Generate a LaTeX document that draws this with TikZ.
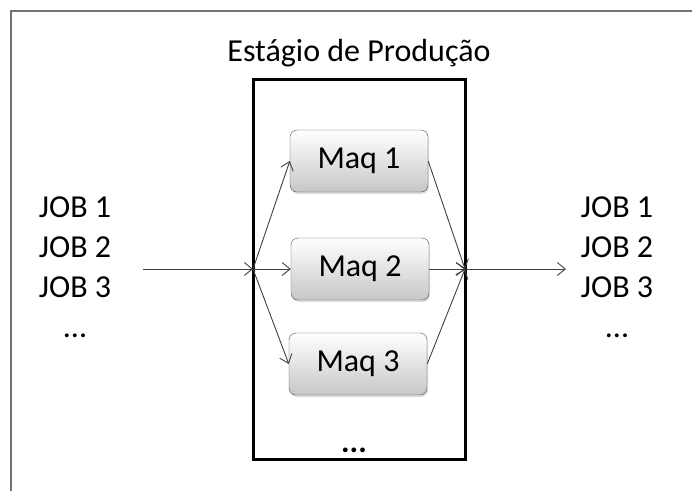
\documentclass[tikz,border=0pt]{standalone}
\usepackage{fontspec}
\setmainfont{Carlito}
\usetikzlibrary{positioning,shadows,arrows.meta}

\begin{document}
\begin{tikzpicture}[x=1pt, y=-1pt, >={Straight Barb[length=8pt,width=13pt]},
	maq/.style = {draw=black!70, rounded corners=7pt, minimum width=138pt, minimum height=62pt,
		top color=white, bottom color=black!22, font=\fontsize{32}{38}\selectfont,
		drop shadow={shadow xshift=1pt, shadow yshift=-2pt, opacity=0.25}},
	stage/.style = {draw, line width=3pt, minimum width=212pt, minimum height=380pt, outer sep=0pt},
	jobs/.style = {align=center, font=\fontsize{32}{40}\selectfont},
	flow/.style = {->, draw=black!75, line width=0.9pt}]
	\useasboundingbox (0,0) rectangle (692,491);
	\draw[black!55, line width=2pt] (11,491) -- (11,11) -- (692,11);
	% stage with the three machines
	\node[stage] (stage) at (359,269) {};
	\node[anchor=base, font=\fontsize{32}{38}\selectfont] (title) at (359,61) {Estágio de Produção};
	\node[maq] (m1) at (359,161) {Maq 1};
	\node[maq] (m2) at (360,269) {Maq 2};
	\node[maq] (m3) at (358,364) {Maq 3};
	\node[anchor=base, font=\fontsize{32}{38}\selectfont\bfseries] (more) at (354,452) {...};
	% jobs before and after
	\node[jobs] (jin) at (75,267) {JOB 1\\JOB 2\\JOB 3\\...};
	\node[jobs] (jout) at (617,267) {JOB 1\\JOB 2\\JOB 3\\...};
	\coordinate (src) at (143,269);
	\coordinate (dst) at (566,269);
	\draw[flow] (src) -- (stage.west);
	\draw[flow] (stage.west) -- (m1.west);
	\draw[flow] (stage.west) -- (m2.west);
	\draw[flow] (stage.west) -- (m3.west);
	\draw[flow] (m1.east) -- (stage.east);
	\draw[flow] (m2.east) -- (stage.east);
	\draw[flow] (m3.east) -- (stage.east);
	\draw[flow] (stage.east) -- (dst);
\end{tikzpicture}
\end{document}
